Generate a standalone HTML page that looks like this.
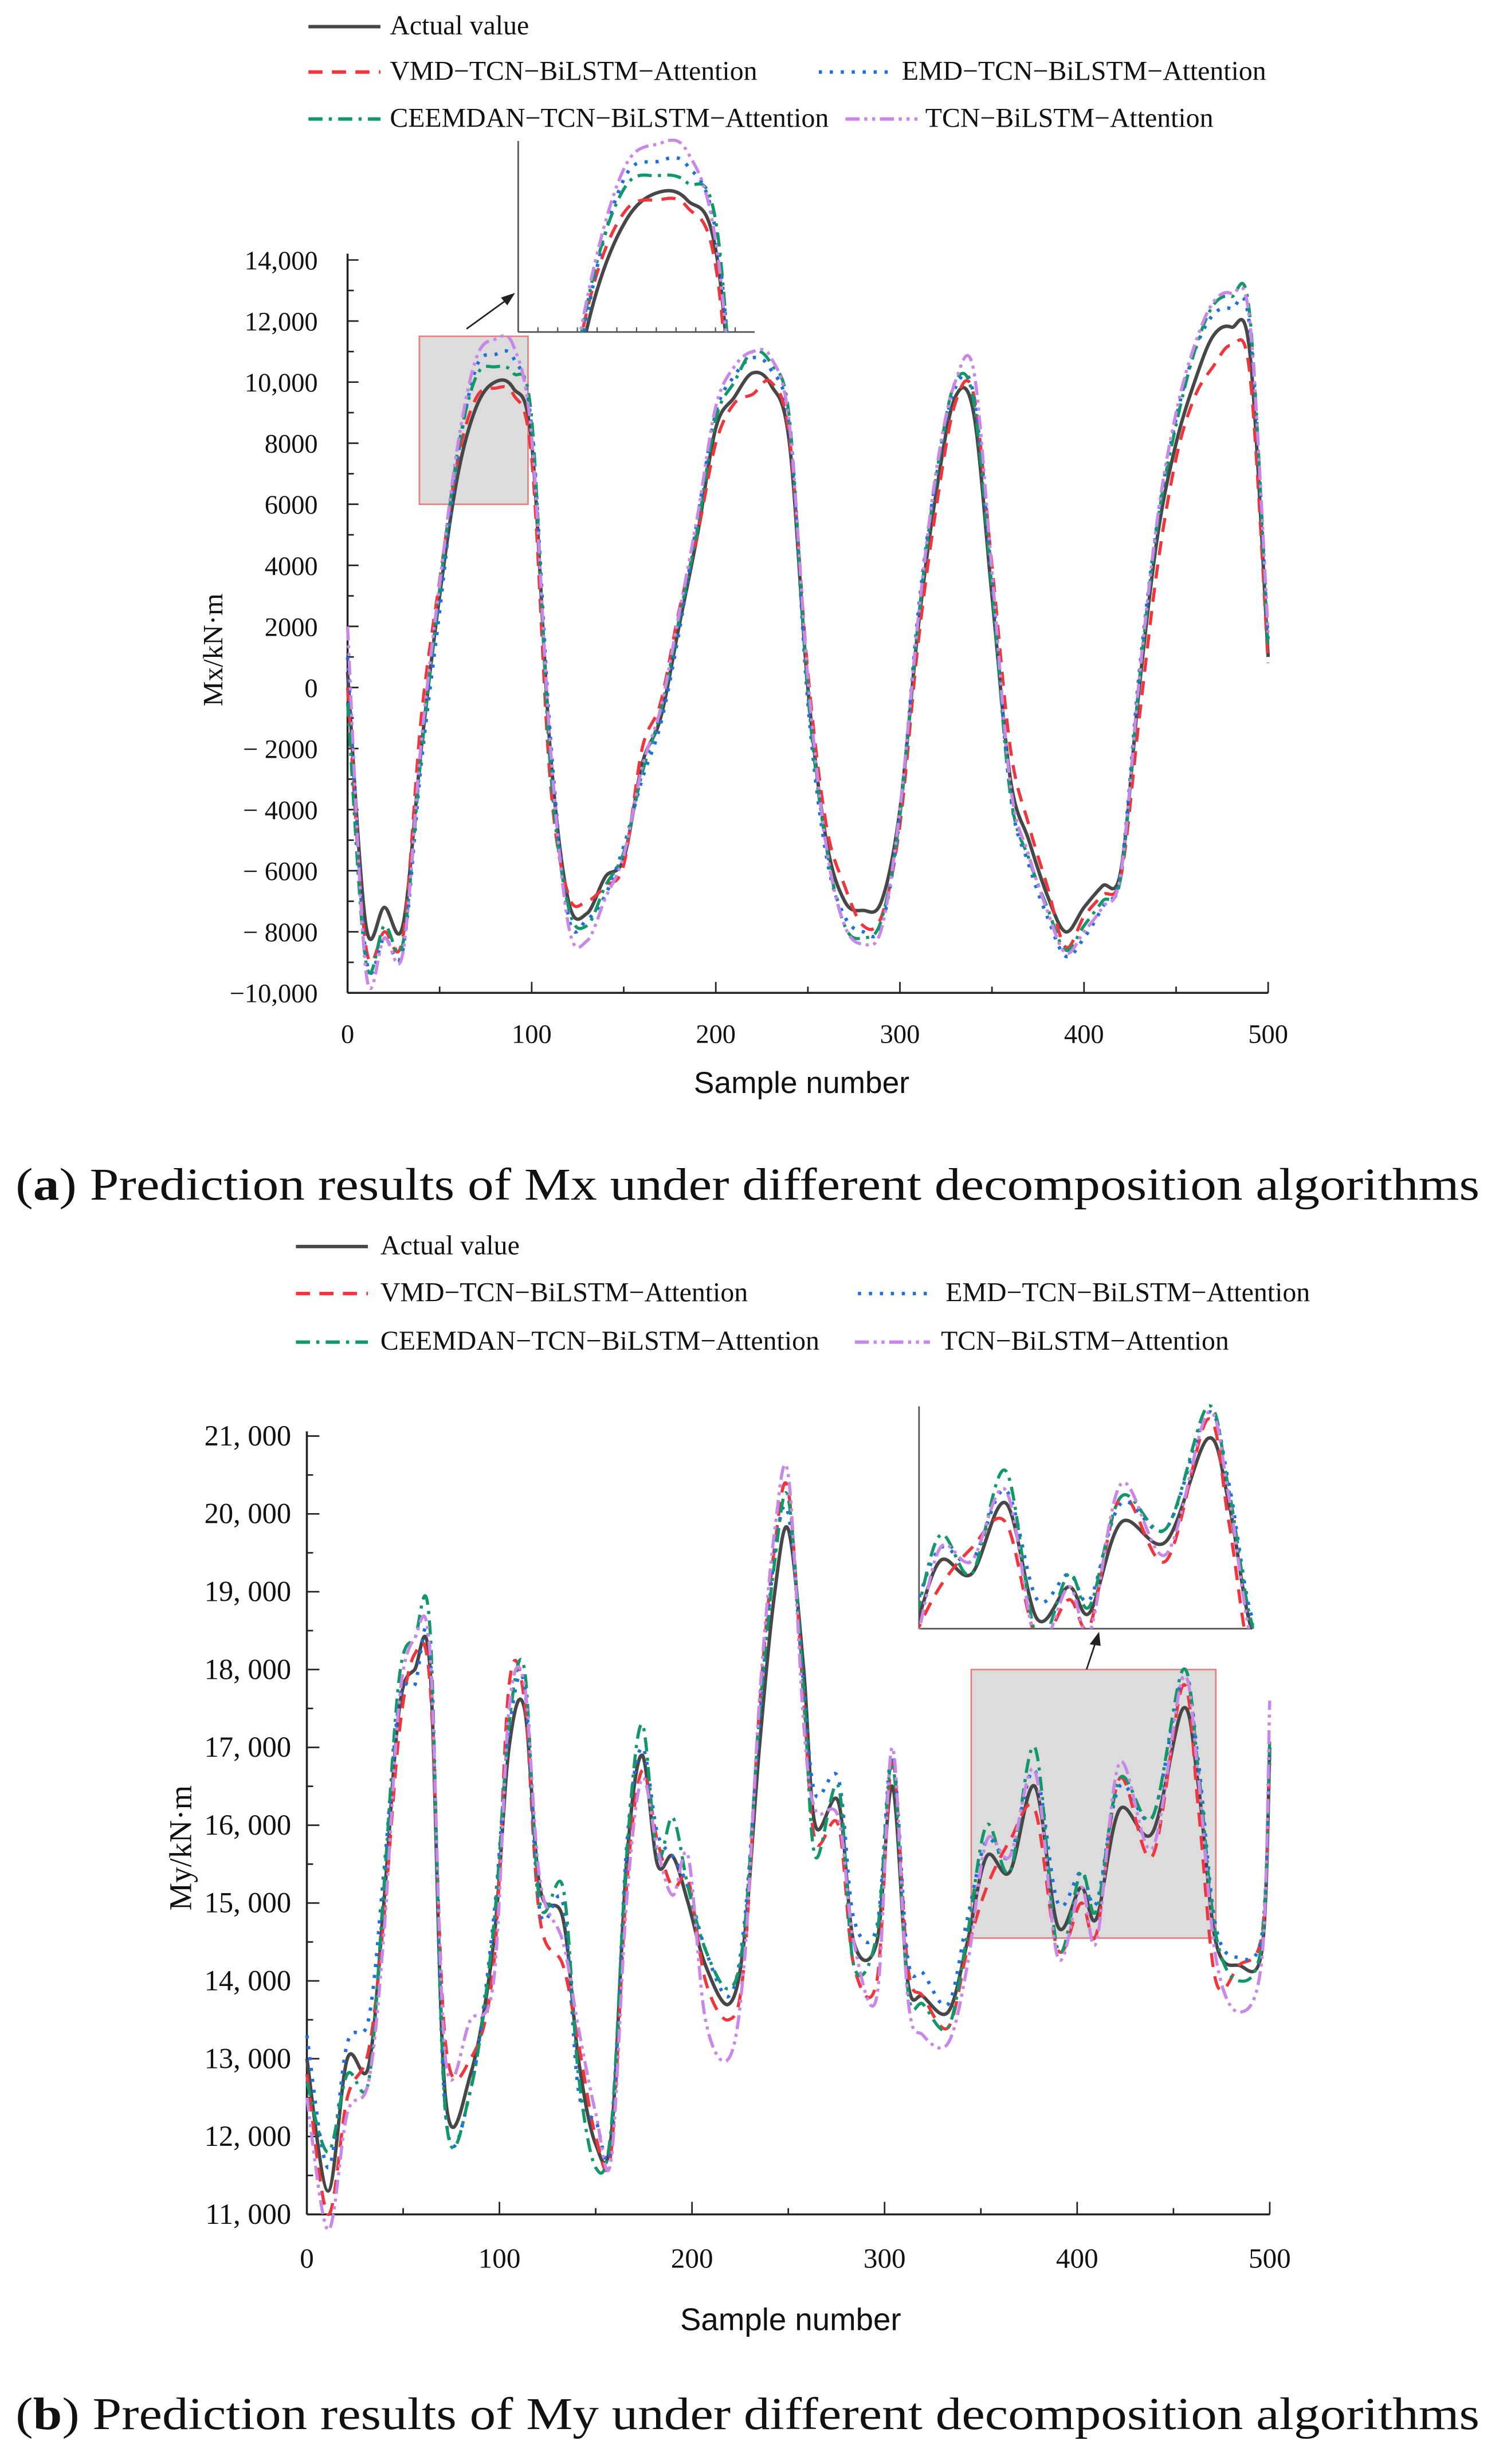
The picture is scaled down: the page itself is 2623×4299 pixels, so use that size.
<!DOCTYPE html>
<html><head><meta charset="utf-8">
<style>
html,body{margin:0;padding:0;background:#fff;}
svg{display:block;}
.serif{font-family:"Liberation Serif",serif;}
.sans{font-family:"Liberation Sans",sans-serif;}
</style></head>
<body>
<svg id="root" width="2623" height="4299" viewBox="0 0 960 1573.4" preserveAspectRatio="none" xmlns="http://www.w3.org/2000/svg">
<defs>
<clipPath id="clipA"><rect x="331" y="88" width="152" height="124"/></clipPath>
<clipPath id="clipB"><rect x="587" y="896" width="214" height="144"/></clipPath>
</defs>
<g id="gA"></g>
<g id="gB"></g>
</svg>
<script>
// ---- Chart A data (sample every 10) ----
const samplesA = [0,10,20,30,40,50,60,70,80,90,100,110,120,130,140,150,160,170,180,190,200,210,220,230,240,250,260,270,280,290,300,310,320,330,340,350,360,370,380,390,400,410,420,430,440,450,460,470,480,490,500];
const actualA = [500,-7800,-7200,-7800,-2000,3000,7000,9200,10000,9800,8000,-2000,-7000,-7400,-6200,-5600,-2500,-1000,2000,5000,8500,9500,10300,9900,8000,0,-5000,-7000,-7300,-7000,-4000,2000,6500,9500,9000,3000,-3000,-5000,-6800,-8000,-7200,-6500,-6000,0,5000,8000,10000,11500,11800,11000,1000];
const vmdA = [0,-8500,-8000,-8200,-1000,3500,7500,9500,9800,9600,7500,-3000,-6800,-7000,-6500,-5800,-2000,-500,2500,5000,8000,9300,9600,10000,8200,500,-4500,-6500,-7800,-7500,-4500,1500,6000,9300,9600,4000,-2000,-4500,-6500,-8500,-7500,-6800,-6200,-1000,4000,7500,9500,10500,11200,10300,800];
const emdA = [1000,-8800,-8200,-8600,-2500,2500,7600,10500,10900,10800,8500,-1500,-7500,-7600,-6800,-5200,-3000,-1200,1800,5500,9000,10200,10800,10400,8500,-500,-5500,-7500,-8000,-7800,-4200,2500,7000,9800,9600,3500,-3500,-5800,-7500,-8800,-8200,-7200,-6000,500,5500,8800,11000,12200,12400,11800,1500];
const ceemdanA = [-500,-9000,-7800,-8400,-2200,3200,7800,10200,10500,10300,8800,-2500,-7200,-7800,-6500,-5400,-2800,-800,2200,5200,8800,10000,11000,10600,8800,-200,-5200,-7800,-8200,-7600,-4200,2200,7000,10000,9400,3200,-3500,-5600,-7200,-8600,-7800,-7000,-6200,200,5400,8600,11000,12500,12800,12200,1200];
const tcnA = [2000,-9300,-8200,-8700,-1800,3400,8000,10800,11400,11200,8200,-1800,-7800,-8300,-6900,-5500,-2600,-700,2400,5600,9200,10500,11000,10800,8600,300,-5200,-7800,-8400,-7900,-4000,2300,7200,10000,10400,3800,-3200,-5500,-7300,-8700,-8000,-7200,-6100,300,5600,9000,11200,12600,12900,12000,1800];
const yTicksA = [14000,12000,10000,8000,6000,4000,2000,0,-2000,-4000,-6000,-8000,-10000];
const yLabelsA = ["14,000","12,000","10,000","8000","6000","4000","2000","0","\u2212 2000","\u2212 4000","\u2212 6000","\u2212 8000","\u221210,000"];
const xTicks = [0,100,200,300,400,500];
const xLabels = ["0","100","200","300","400","500"];

// ---- Chart B data ----
const samplesB = [0,11,21,32,40,48,56,64,72,85,97,105,113,121,133,141,150,158,166,174,182,190,198,207,219,227,235,243,250,258,264,276,284,296,304,312,320,333,343,353,365,378,390,402,410,422,439,455,463,472,484,496,500];
const actualB = [13000,11300,13000,12900,15000,17500,18000,18000,12500,12800,14500,17000,17500,15200,14800,13000,11900,12000,15500,16900,15500,15600,15000,14200,13700,14500,17000,19000,19800,18000,16000,16300,14500,14500,16500,14000,13800,13600,14500,15600,15400,16500,14700,15200,14800,16200,15900,17500,16500,14500,14200,14400,17000];
const vmdB = [12800,11000,12500,13100,14800,17200,18200,17800,13200,13000,14200,17800,17600,14800,14200,13200,12000,11800,15200,16700,15800,15200,15300,14000,13500,14200,17500,19600,20300,17600,15800,16000,14200,14000,16800,14200,13800,13400,14400,15200,15800,16200,14400,15000,14600,16600,15600,17800,16200,14000,14200,14600,16800];
const emdB = [13300,11600,13200,13500,15400,17600,17800,18200,12300,12600,14800,17200,17800,14900,15000,12600,12200,11900,15700,17000,15900,15600,15200,14400,13800,14700,17300,19500,20000,17800,16400,16600,14800,14700,16900,14300,14100,13700,14800,15800,15600,16700,15000,15400,15000,16500,16100,17900,16800,14700,14300,14600,16900];
const ceemdanB = [12700,11800,12800,12700,15200,17900,18400,18500,12300,12600,14700,17300,18000,15000,15200,12800,11600,12100,15600,17300,15600,16100,15200,14400,13900,14600,17400,19400,20200,17700,15600,16500,14200,14600,16800,13900,13700,13400,14600,16000,15400,17000,14400,15400,14900,16600,16100,18000,16700,14600,14000,14500,17100];
const tcnB = [12500,10800,12300,12700,14600,17600,18400,18200,13000,13500,14000,17500,17800,15300,14500,13400,12300,11700,15000,16600,15700,15100,15600,13500,13000,14200,17600,19800,20500,17300,16200,16100,14500,13800,17000,13800,13300,13200,14200,15800,15600,16700,14300,15200,14500,16800,15700,17900,16600,14300,13600,14300,17600];
const yTicksB = [21000,20000,19000,18000,17000,16000,15000,14000,13000,12000,11000];
const yLabelsB = ["21, 000","20, 000","19, 000","18, 000","17, 000","16, 000","15, 000","14, 000","13, 000","12, 000","11, 000"];

const NS = "http://www.w3.org/2000/svg";
function mk(tag, attrs, parent){const e=document.createElementNS(NS,tag);for(const k in attrs)e.setAttribute(k,attrs[k]);parent.appendChild(e);return e;}
function lin(d0,d1,r0,r1){return v=>r0+(v-d0)*(r1-r0)/(d1-d0);}
function smoothPath(pts){
  let d="M"+pts[0][0].toFixed(2)+","+pts[0][1].toFixed(2);
  for(let i=0;i<pts.length-1;i++){
    const p0=pts[Math.max(0,i-1)],p1=pts[i],p2=pts[i+1],p3=pts[Math.min(pts.length-1,i+2)];
    const c1=[p1[0]+(p2[0]-p0[0])/6,p1[1]+(p2[1]-p0[1])/6];
    const c2=[p2[0]-(p3[0]-p1[0])/6,p2[1]-(p3[1]-p1[1])/6];
    d+="C"+c1[0].toFixed(2)+","+c1[1].toFixed(2)+" "+c2[0].toFixed(2)+","+c2[1].toFixed(2)+" "+p2[0].toFixed(2)+","+p2[1].toFixed(2);
  }
  return d;
}
const styles = {
  actual:{stroke:"#474747",dash:"",w:2.2},
  vmd:{stroke:"#f0363c",dash:"9,6",w:2},
  emd:{stroke:"#1f6fe0",dash:"2,5",w:2.2},
  ceemdan:{stroke:"#12976a",dash:"9,4,2,4",w:2},
  tcn:{stroke:"#c987e8",dash:"9,3,2,3,2,3",w:2}
};
function drawSeries(g, xs, ys, sx, sy, st, name, clip){
  const p = mk("path",{d:smoothPath(xs.map((s,i)=>[sx(s),sy(ys[i])])),fill:"none",stroke:st.stroke,"stroke-width":st.w,"stroke-dasharray":st.dash,"stroke-linejoin":"round"},g);
  if(clip) p.setAttribute("clip-path",clip);
  
  
}
function text(g, x, y, str, size, anchor, cls, name){
  const t=mk("text",{x:x,y:y,"font-size":size,"text-anchor":anchor||"start",class:cls||"serif",fill:"#111"},g);
  t.textContent=str;
  
  
  return t;
}
function legend(g, rows){
  rows.forEach(r=>{
    const l=mk("line",{x1:r.x1,x2:r.x2,y1:r.y,y2:r.y,stroke:styles[r.k].stroke,"stroke-width":2.2,"stroke-dasharray":styles[r.k].dash},g);
    
    
    text(g, r.tx, r.y+5, r.label, 17.5, "start", "serif", 'legend-label-'+r.k);
  });
}
const names = {actual:"Actual value",vmd:"VMD\u2212TCN\u2212BiLSTM\u2212Attention",emd:"EMD\u2212TCN\u2212BiLSTM\u2212Attention",ceemdan:"CEEMDAN\u2212TCN\u2212BiLSTM\u2212Attention",tcn:"TCN\u2212BiLSTM\u2212Attention"};

// ================= Chart A =================
(function(){
  const g=document.getElementById("gA");
  legend(g,[
    {k:"actual",x1:197,x2:243,y:17,tx:249,label:names.actual},
    {k:"vmd",x1:197,x2:243,y:46,tx:249,label:names.vmd},
    {k:"emd",x1:523,x2:570,y:46,tx:576,label:names.emd},
    {k:"ceemdan",x1:197,x2:243,y:76,tx:249,label:names.ceemdan},
    {k:"tcn",x1:540,x2:586,y:76,tx:591,label:names.tcn}
  ]);
  const sx=lin(0,500,222,810), sy=lin(14000,-10000,166,634);
  const zb=mk("rect",{x:sx(39),y:sy(11500),width:sx(98)-sx(39),height:sy(6000)-sy(11500),fill:"#dcdcdc",stroke:"#e88080","stroke-width":1},g);
  
  mk("line",{x1:222,x2:222,y1:162,y2:634,stroke:"#222","stroke-width":1.3},g);
  mk("line",{x1:222,x2:810,y1:634,y2:634,stroke:"#222","stroke-width":1.3},g);
  for(let v=-10000;v<=14000;v+=1000){const y=sy(v);mk("line",{x1:222,x2:v%2000===0?229:226,y1:y,y2:y,stroke:"#222","stroke-width":1},g);}
  yTicksA.forEach((v,i)=>text(g,203,sy(v)+6,yLabelsA[i],17,"end","serif","y-tick-label"));
  for(let s=0;s<=500;s+=50){mk("line",{x1:sx(s),x2:sx(s),y1:634,y2:s%100===0?627:630,stroke:"#222","stroke-width":1},g);}
  xTicks.forEach((v,i)=>text(g,sx(v),666,xLabels[i],17,"middle","serif","x-tick-label"));
  text(g,512,698,"Sample number",19.5,"middle","sans","x-axis-title");
  const yt=text(g,0,0,"Mx/kN\u00b7m",18,"middle","serif","y-axis-title");
  yt.setAttribute("transform","translate(142,415) rotate(-90)");
  drawSeries(g,samplesA,actualA,sx,sy,styles.actual,"series-actual");
  drawSeries(g,samplesA,vmdA,sx,sy,styles.vmd,"series-vmd");
  drawSeries(g,samplesA,emdA,sx,sy,styles.emd,"series-emd");
  drawSeries(g,samplesA,ceemdanA,sx,sy,styles.ceemdan,"series-ceemdan");
  drawSeries(g,samplesA,tcnA,sx,sy,styles.tcn,"series-tcn");
  const ix=lin(35,112,331,482), iy=lin(11500,6000,90,212);
  mk("line",{x1:331,x2:331,y1:90,y2:212,stroke:"#555","stroke-width":1},g);
  mk("line",{x1:331,x2:482,y1:212,y2:212,stroke:"#555","stroke-width":1},g);
  for(let k=0;k<12;k++){mk("line",{x1:331+k*12.6,x2:331+k*12.6,y1:212,y2:209,stroke:"#555","stroke-width":0.8},g);}
  drawSeries(g,samplesA,actualA,ix,iy,styles.actual,"inset-actual","url(#clipA)");
  drawSeries(g,samplesA,vmdA,ix,iy,styles.vmd,"inset-vmd","url(#clipA)");
  drawSeries(g,samplesA,emdA,ix,iy,styles.emd,"inset-emd","url(#clipA)");
  drawSeries(g,samplesA,ceemdanA,ix,iy,styles.ceemdan,"inset-ceemdan","url(#clipA)");
  drawSeries(g,samplesA,tcnA,ix,iy,styles.tcn,"inset-tcn","url(#clipA)");
  mk("line",{x1:298,x2:327,y1:210,y2:189,stroke:"#222","stroke-width":1},g);
  mk("path",{d:"M329,187 L320,190 L324,195 Z",fill:"#222"},g);
  const cap=mk("text",{x:10,y:766,"font-size":29,class:"serif",fill:"#111",textLength:935,lengthAdjust:"spacingAndGlyphs"},g);
  cap.innerHTML='(<tspan font-weight="bold">a</tspan>) Prediction results of Mx under different decomposition algorithms';
  
})();

// ================= Chart B =================
(function(){
  const g=document.getElementById("gB");
  legend(g,[
    {k:"actual",x1:189,x2:235,y:796,tx:243,label:names.actual},
    {k:"vmd",x1:189,x2:235,y:826,tx:243,label:names.vmd},
    {k:"emd",x1:548,x2:597,y:826,tx:604,label:names.emd},
    {k:"ceemdan",x1:189,x2:235,y:857,tx:243,label:names.ceemdan},
    {k:"tcn",x1:546,x2:594,y:857,tx:601,label:names.tcn}
  ]);
  const sx=lin(0,500,196,811), sy=lin(21000,11000,917,1414);
  const zb=mk("rect",{x:sx(345),y:sy(18000),width:sx(472)-sx(345),height:sy(14550)-sy(18000),fill:"#dcdcdc",stroke:"#e88080","stroke-width":1},g);
  
  mk("line",{x1:196,x2:196,y1:914,y2:1414,stroke:"#222","stroke-width":1.3},g);
  mk("line",{x1:196,x2:811,y1:1414,y2:1414,stroke:"#222","stroke-width":1.3},g);
  for(let v=11000;v<=21000;v+=500){const y=sy(v);mk("line",{x1:196,x2:v%1000===0?204:200,y1:y,y2:y,stroke:"#222","stroke-width":1},g);}
  yTicksB.forEach((v,i)=>text(g,186,sy(v)+6,yLabelsB[i],18.5,"end","serif","y-tick-label"));
  for(let s=0;s<=500;s+=50){mk("line",{x1:sx(s),x2:sx(s),y1:1414,y2:s%100===0?1406:1410,stroke:"#222","stroke-width":1},g);}
  xTicks.forEach((v,i)=>text(g,sx(v),1448,xLabels[i],18,"middle","serif","x-tick-label"));
  text(g,505,1488,"Sample number",20,"middle","sans","x-axis-title");
  const yt=text(g,0,0,"My/kN\u00b7m",20,"middle","serif","y-axis-title");
  yt.setAttribute("transform","translate(122,1180) rotate(-90)");
  drawSeries(g,samplesB,actualB,sx,sy,styles.actual,"series-actual");
  drawSeries(g,samplesB,vmdB,sx,sy,styles.vmd,"series-vmd");
  drawSeries(g,samplesB,emdB,sx,sy,styles.emd,"series-emd");
  drawSeries(g,samplesB,ceemdanB,sx,sy,styles.ceemdan,"series-ceemdan");
  drawSeries(g,samplesB,tcnB,sx,sy,styles.tcn,"series-tcn");
  const ix=lin(345,472,587,800), iy=lin(18000,14550,898,1040);
  mk("line",{x1:587,x2:587,y1:898,y2:1040,stroke:"#555","stroke-width":1},g);
  mk("line",{x1:587,x2:800,y1:1040,y2:1040,stroke:"#555","stroke-width":1},g);
  drawSeries(g,samplesB,actualB,ix,iy,styles.actual,"inset-actual","url(#clipB)");
  drawSeries(g,samplesB,vmdB,ix,iy,styles.vmd,"inset-vmd","url(#clipB)");
  drawSeries(g,samplesB,emdB,ix,iy,styles.emd,"inset-emd","url(#clipB)");
  drawSeries(g,samplesB,ceemdanB,ix,iy,styles.ceemdan,"inset-ceemdan","url(#clipB)");
  drawSeries(g,samplesB,tcnB,ix,iy,styles.tcn,"inset-tcn","url(#clipB)");
  mk("line",{x1:694,x2:700,y1:1066,y2:1048,stroke:"#222","stroke-width":1},g);
  mk("path",{d:"M702,1042 L696,1050 L703,1051 Z",fill:"#222"},g);
  const cap=mk("text",{x:10,y:1551,"font-size":29,class:"serif",fill:"#111",textLength:935,lengthAdjust:"spacingAndGlyphs"},g);
  cap.innerHTML='(<tspan font-weight="bold">b</tspan>) Prediction results of My under different decomposition algorithms';
  
})();
</script>
</body></html>
